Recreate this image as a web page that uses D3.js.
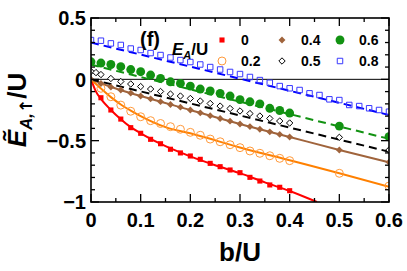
<!DOCTYPE html>
<html>
<head>
<meta charset="utf-8">
<script src="https://cdn.jsdelivr.net/npm/d3@7"></script>
<style>
  body { margin: 0; background: #fff; }
  text { font-family: "Liberation Sans", Arial, sans-serif; font-weight: bold; }
</style>
</head>
<body>
<div id="chart"></div>
<script>
// values (b/U on x, E/U on y)
const bRed = [0.02, 0.04, 0.06, 0.08, 0.10, 0.12, 0.14, 0.16, 0.18, 0.20, 0.22, 0.24, 0.26, 0.28, 0.30, 0.32, 0.34, 0.36, 0.38, 0.40];
const eRed = [-0.15, -0.25, -0.324, -0.394, -0.44, -0.489, -0.525, -0.57, -0.6, -0.625, -0.652, -0.685, -0.712, -0.739, -0.761, -0.799, -0.829, -0.861, -0.88, -0.908];

const bOrange = [0.02, 0.04, 0.06, 0.08, 0.10, 0.12, 0.14, 0.16, 0.18, 0.20, 0.22, 0.24, 0.26, 0.28, 0.30, 0.32, 0.34, 0.36, 0.38, 0.40, 0.50, 0.60];
const eOrange = [-0.073, -0.142, -0.21, -0.26, -0.305, -0.337, -0.36, -0.386, -0.407, -0.432, -0.456, -0.487, -0.509, -0.533, -0.557, -0.584, -0.603, -0.623, -0.644, -0.663, -0.766, -0.87];

const bBrown = [0, 0.02, 0.04, 0.06, 0.08, 0.10, 0.12, 0.14, 0.16, 0.18, 0.20, 0.22, 0.24, 0.26, 0.28, 0.30, 0.32, 0.34, 0.36, 0.38, 0.40, 0.50, 0.60];
const eBrown = [0, -0.034, -0.063, -0.087, -0.112, -0.136, -0.159, -0.182, -0.205, -0.227, -0.25, -0.273, -0.296, -0.319, -0.341, -0.364, -0.385, -0.407, -0.428, -0.449, -0.47, -0.576, -0.676];

const bBlack = [0, 0.01, 0.02, 0.04, 0.06, 0.08, 0.10, 0.12, 0.14, 0.16, 0.18, 0.20, 0.22, 0.24, 0.26, 0.28, 0.30, 0.32, 0.34, 0.36, 0.38, 0.40, 0.50, 0.60];
const eBlack = [0.064, 0.055, 0.039, 0.007, -0.018, -0.038, -0.059, -0.079, -0.099, -0.12, -0.136, -0.156, -0.177, -0.197, -0.218, -0.238, -0.258, -0.279, -0.299, -0.319, -0.34, -0.356, -0.473, -0.576];

const bGreen = [0, 0.02, 0.04, 0.06, 0.08, 0.10, 0.12, 0.14, 0.16, 0.18, 0.20, 0.22, 0.24, 0.26, 0.28, 0.30, 0.32, 0.34, 0.36, 0.38, 0.40, 0.50, 0.60];
const eGreen = [0.143, 0.133, 0.121, 0.103, 0.08, 0.062, 0.035, 0.007, -0.02, -0.033, -0.055, -0.079, -0.095, -0.114, -0.136, -0.165, -0.183, -0.2, -0.236, -0.254, -0.275, -0.381, -0.468];

const bBlue = [0, 0.02, 0.04, 0.06, 0.08, 0.10, 0.12, 0.14, 0.16, 0.18, 0.20, 0.22, 0.24, 0.26, 0.28, 0.30, 0.32, 0.34, 0.36, 0.38, 0.40, 0.42, 0.44, 0.46, 0.48, 0.50, 0.52, 0.54, 0.56, 0.58, 0.60];
const eBlue = [0.32, 0.315, 0.293, 0.28, 0.251, 0.239, 0.214, 0.198, 0.178, 0.157, 0.141, 0.121, 0.1, 0.08, 0.06, 0.043, 0.019, -0.006, -0.028, -0.055, -0.073, -0.087, -0.114, -0.128, -0.163, -0.169, -0.209, -0.218, -0.236, -0.25, -0.264];

// fitted curves
const fitRedB = [0, 0.01, 0.02, 0.04, 0.06, 0.08, 0.10, 0.15, 0.20, 0.25, 0.30, 0.35, 0.40, 0.455];
const fitRedE = [0, -0.1, -0.16, -0.25, -0.325, -0.39, -0.44, -0.545, -0.628, -0.7, -0.765, -0.84, -0.91, -1];
const fitOrangeB = [0, 0.02, 0.04, 0.06, 0.08, 0.10, 0.15, 0.20, 0.30, 0.40, 0.50, 0.60];
const fitOrangeE = [0, -0.075, -0.145, -0.205, -0.255, -0.3, -0.39, -0.44, -0.555, -0.66, -0.765, -0.875];
const fitBrownB = [0, 0.05, 0.10, 0.20, 0.30, 0.40, 0.50, 0.60];
const fitBrownE = [0, -0.075, -0.136, -0.25, -0.364, -0.47, -0.576, -0.676];
const fitBlackB = [0, 0.60];
const fitBlackE = [0, -0.59];
const fitGreenB = [0, 0.60];
const fitGreenE = [0.12, -0.485];
const fitBlueB = [0, 0.60];
const fitBlueE = [0.30, -0.29];

const xTicks = [0, 0.1, 0.2, 0.3, 0.4, 0.5, 0.6];
const xMinor = [0.05, 0.15, 0.25, 0.35, 0.45, 0.55];
const yTicks = [-1, -0.5, 0, 0.5];
const yMinor = [-0.9, -0.8, -0.7, -0.6, -0.4, -0.3, -0.2, -0.1, 0.1, 0.2, 0.3, 0.4];

const W = 407, H = 271;
const margin = { top: 18, right: 18, bottom: 69, left: 91 };

const svg = d3.select("#chart").append("svg")
  .attr("width", W).attr("height", H);

const x = d3.scaleLinear().domain([0, 0.6]).range([margin.left, W - margin.right]);
const y = d3.scaleLinear().domain([-1, 0.5]).range([H - margin.bottom, margin.top]);

const zip = (bs, es) => bs.map((b, i) => ({ b, e: es[i] }));

svg.append("clipPath").attr("id", "clip")
  .append("rect")
  .attr("x", x(0)).attr("y", y(0.5))
  .attr("width", x(0.6) - x(0)).attr("height", y(-1) - y(0.5));

const plot = svg.append("g").attr("clip-path", "url(#clip)");

// zero line
plot.append("line")
  .attr("x1", x(0)).attr("x2", x(0.6))
  .attr("y1", y(0)).attr("y2", y(0))
  .attr("stroke", "#000").attr("stroke-width", 1);

// fit lines
const line = d3.line().x(d => x(d.b)).y(d => y(d.e)).curve(d3.curveMonotoneX);
const fits = [
  { b: fitRedB, e: fitRedE, color: "#ff0000", dash: null },
  { b: fitOrangeB, e: fitOrangeE, color: "#ff8000", dash: null },
  { b: fitBrownB, e: fitBrownE, color: "#a0643c", dash: null },
  { b: fitBlackB, e: fitBlackE, color: "#000000", dash: "8,5" },
  { b: fitGreenB, e: fitGreenE, color: "#129212", dash: "8,5" },
  { b: fitBlueB, e: fitBlueE, color: "#0000ff", dash: "8,5" }
];
fits.forEach(f => {
  plot.append("path")
    .datum(zip(f.b, f.e))
    .attr("d", line)
    .attr("fill", "none")
    .attr("stroke", f.color)
    .attr("stroke-width", 2)
    .attr("stroke-dasharray", f.dash);
});

// markers
const series = [
  { label: "0", b: bRed, e: eRed, shape: d3.symbolSquare, size: 26, fill: "#ff0000", stroke: "none" },
  { label: "0.2", b: bOrange, e: eOrange, shape: d3.symbolCircle, size: 50, fill: "none", stroke: "#ff9a3c" },
  { label: "0.4", b: bBrown, e: eBrown, shape: d3.symbolDiamond2, size: 30, fill: "#a0643c", stroke: "none" },
  { label: "0.5", b: bBlack, e: eBlack, shape: d3.symbolDiamond2, size: 26, fill: "#fff", stroke: "#000" },
  { label: "0.6", b: bGreen, e: eGreen, shape: d3.symbolCircle, size: 62, fill: "#129212", stroke: "none" },
  { label: "0.8", b: bBlue, e: eBlue, shape: d3.symbolSquare, size: 30, fill: "none", stroke: "#3838ff" }
];
series.forEach(s => {
  plot.append("g").selectAll("path")
    .data(zip(s.b, s.e))
    .enter().append("path")
    .attr("transform", d => `translate(${x(d.b)},${y(d.e)})`)
    .attr("d", d3.symbol().type(s.shape).size(s.size))
    .attr("fill", s.fill)
    .attr("stroke", s.stroke)
    .attr("stroke-width", 1);
});

// frame and inward ticks
const x0 = x(0), x1 = x(0.6), y0 = y(-1), y1 = y(0.5);
svg.append("rect")
  .attr("x", x0).attr("y", y1)
  .attr("width", x1 - x0).attr("height", y0 - y1)
  .attr("fill", "none").attr("stroke", "#000").attr("stroke-width", 1.6);

const ticks = svg.append("g").attr("stroke", "#000").attr("stroke-width", 1.3);
const xt = xTicks.map(v => ({ v, len: 8 })).concat(xMinor.map(v => ({ v, len: 4 })));
xt.forEach(t => {
  ticks.append("line").attr("x1", x(t.v)).attr("x2", x(t.v)).attr("y1", y0).attr("y2", y0 - t.len);
  ticks.append("line").attr("x1", x(t.v)).attr("x2", x(t.v)).attr("y1", y1).attr("y2", y1 + t.len);
});
const yt = yTicks.map(v => ({ v, len: 8 })).concat(yMinor.map(v => ({ v, len: 4 })));
yt.forEach(t => {
  ticks.append("line").attr("y1", y(t.v)).attr("y2", y(t.v)).attr("x1", x0).attr("x2", x0 + t.len);
  ticks.append("line").attr("y1", y(t.v)).attr("y2", y(t.v)).attr("x1", x1).attr("x2", x1 - t.len);
});

// tick labels
const fmt = v => (v < 0 ? "\u2212" : "") + Math.abs(v);
svg.append("g").selectAll("text")
  .data(xTicks).enter().append("text")
  .attr("x", d => x(d)).attr("y", y0 + 25)
  .attr("text-anchor", "middle")
  .attr("font-size", 20)
  .text(d => fmt(d));

svg.append("g").selectAll("text")
  .data(yTicks).enter().append("text")
  .attr("x", x0 - 5).attr("y", d => y(d))
  .attr("dy", "0.36em")
  .attr("text-anchor", "end")
  .attr("font-size", 20)
  .text(d => fmt(d));

// axis titles
svg.append("text")
  .attr("x", (x0 + x1) / 2).attr("y", 261)
  .attr("text-anchor", "middle")
  .attr("font-size", 26)
  .text("b/U");

const yl = svg.append("text")
  .attr("transform", `translate(26,${(y0 + y1) / 2}) rotate(-90)`)
  .attr("text-anchor", "middle")
  .attr("font-size", 26);
yl.append("tspan").attr("font-style", "italic").text("\u1EBC");
yl.append("tspan").attr("font-style", "italic").attr("font-size", 17).attr("dy", 6).text("A,");
yl.append("tspan").attr("font-size", 17).style("font-family", "'DejaVu Sans', sans-serif").text("\u2191");
yl.append("tspan").attr("dy", -6).text("/U");

// panel label and legend
svg.append("text").attr("x", 140).attr("y", 46).attr("font-size", 20).text("(f)");

const lt = svg.append("text").attr("x", 172).attr("y", 55).attr("font-size", 17);
lt.append("tspan").attr("font-style", "italic").text("E");
lt.append("tspan").attr("font-style", "italic").attr("font-size", 11).attr("dy", 4).text("A");
lt.append("tspan").attr("dy", -4).text("/U");

const legX = [222, 282, 340];
const legY = [40, 61];
series.forEach((s, i) => {
  const cx = legX[Math.floor(i / 2)], cy = legY[i % 2];
  svg.append("path")
    .attr("transform", `translate(${cx},${cy})`)
    .attr("d", d3.symbol().type(s.shape).size(s.size))
    .attr("fill", s.fill)
    .attr("stroke", s.stroke)
    .attr("stroke-width", 1);
  svg.append("text")
    .attr("x", cx + 19).attr("y", cy)
    .attr("dy", "0.36em")
    .attr("font-size", 14)
    .text(s.label);
});
</script>
</body>
</html>
